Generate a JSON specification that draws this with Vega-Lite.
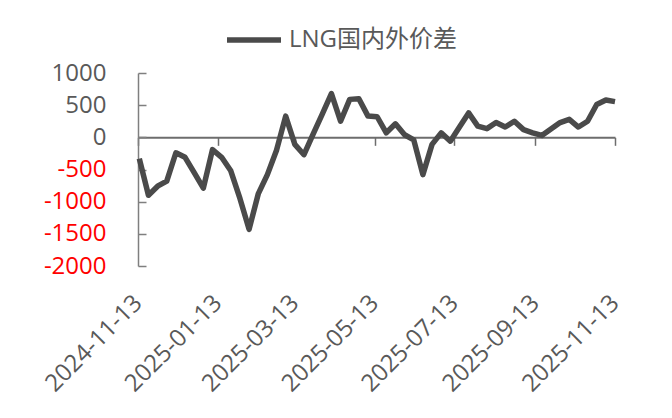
{
  "$schema": "https://vega.github.io/schema/vega-lite/v6.json",
  "width": 477,
  "height": 193,
  "autosize": {"type": "none"},
  "padding": {"left": 138, "top": 73, "right": 57, "bottom": 152},
  "background": "white",
  "config": {"view": {"stroke": null}, "font": "Open Sans, Noto Sans CJK SC"},
  "data": {"values": [
    {"date": "2024-11-14", "value": -330},
    {"date": "2024-11-21", "value": -900},
    {"date": "2024-11-28", "value": -760},
    {"date": "2024-12-05", "value": -680},
    {"date": "2024-12-12", "value": -240},
    {"date": "2024-12-19", "value": -310},
    {"date": "2024-12-26", "value": -550},
    {"date": "2025-01-02", "value": -790},
    {"date": "2025-01-09", "value": -190},
    {"date": "2025-01-16", "value": -310},
    {"date": "2025-01-23", "value": -520},
    {"date": "2025-01-30", "value": -950},
    {"date": "2025-02-06", "value": -1430},
    {"date": "2025-02-13", "value": -880},
    {"date": "2025-02-20", "value": -580},
    {"date": "2025-02-27", "value": -200},
    {"date": "2025-03-06", "value": 330},
    {"date": "2025-03-13", "value": -110},
    {"date": "2025-03-20", "value": -270},
    {"date": "2025-03-27", "value": 50},
    {"date": "2025-04-03", "value": 360},
    {"date": "2025-04-10", "value": 680},
    {"date": "2025-04-17", "value": 250},
    {"date": "2025-04-24", "value": 590},
    {"date": "2025-05-01", "value": 600},
    {"date": "2025-05-08", "value": 330},
    {"date": "2025-05-15", "value": 320},
    {"date": "2025-05-22", "value": 70},
    {"date": "2025-05-29", "value": 210},
    {"date": "2025-06-05", "value": 40},
    {"date": "2025-06-12", "value": -40},
    {"date": "2025-06-19", "value": -580},
    {"date": "2025-06-26", "value": -110},
    {"date": "2025-07-03", "value": 70},
    {"date": "2025-07-10", "value": -60},
    {"date": "2025-07-17", "value": 160},
    {"date": "2025-07-24", "value": 380},
    {"date": "2025-07-31", "value": 175},
    {"date": "2025-08-07", "value": 135},
    {"date": "2025-08-14", "value": 230},
    {"date": "2025-08-21", "value": 160},
    {"date": "2025-08-28", "value": 250},
    {"date": "2025-09-04", "value": 120},
    {"date": "2025-09-11", "value": 70},
    {"date": "2025-09-18", "value": 30},
    {"date": "2025-09-25", "value": 130},
    {"date": "2025-10-02", "value": 230},
    {"date": "2025-10-09", "value": 280},
    {"date": "2025-10-16", "value": 160},
    {"date": "2025-10-23", "value": 250},
    {"date": "2025-10-30", "value": 510},
    {"date": "2025-11-06", "value": 580},
    {"date": "2025-11-13", "value": 555}
  ]},
  "layer": [
    {
      "mark": {"type": "line", "strokeWidth": 5.5, "strokeJoin": "round", "strokeCap": "butt"},
      "encoding": {
        "x": {
          "field": "date", "type": "temporal",
          "scale": {"type": "utc", "domain": [{"year": 2024, "month": 11, "date": 13, "utc": true}, {"year": 2025, "month": 11, "date": 13, "utc": true}]},
          "axis": {
            "orient": "bottom", "title": null, "grid": false, "domain": false, "ticks": false,
            "values": [
              {"year": 2024, "month": 11, "date": 13, "utc": true},
              {"year": 2025, "month": 1, "date": 13, "utc": true},
              {"year": 2025, "month": 3, "date": 13, "utc": true},
              {"year": 2025, "month": 5, "date": 13, "utc": true},
              {"year": 2025, "month": 7, "date": 13, "utc": true},
              {"year": 2025, "month": 9, "date": 13, "utc": true},
              {"year": 2025, "month": 11, "date": 13, "utc": true}
            ],
            "labelExpr": "utcFormat(datum.value, '%Y-%m-%d')",
            "labelAngle": -45, "labelAlign": "right", "labelBaseline": "middle",
            "labelFontSize": 24, "labelColor": "#595959", "labelPadding": 33,
            "labelOverlap": false, "labelBound": false, "labelFlush": false, "labelLimit": 0
          }
        },
        "y": {
          "field": "value", "type": "quantitative",
          "scale": {"domain": [-2000, 1000], "nice": false, "zero": false},
          "axis": {
            "title": null, "grid": false,
            "values": [-2000, -1500, -1000, -500, 0, 500, 1000],
            "labelExpr": "'' + datum.value",
            "labelOverlap": false, "labelBound": false, "labelFlush": false,
            "domain": true, "domainColor": "#7f7f7f", "domainWidth": 1.5,
            "ticks": true, "tickSize": -8, "tickColor": "#7f7f7f", "tickWidth": 1.5,
            "labelFontSize": 24, "labelPadding": 40,
            "labelColor": {"condition": {"test": "datum.value < 0", "value": "#FF0000"}, "value": "#595959"}
          }
        },
        "color": {
          "datum": "LNG国内外价差", "type": "nominal",
          "scale": {"range": ["#4a4a4a"]},
          "legend": {
            "orient": "none", "legendX": 86, "legendY": -63, "direction": "horizontal",
            "title": null, "symbolType": "stroke", "symbolSize": 2916, "symbolStrokeWidth": 5.5,
            "labelFontSize": 24, "labelColor": "#595959", "labelOffset": 5, "labelLimit": 0
          }
        }
      }
    },
    {
      "mark": {"type": "line", "opacity": 0},
      "encoding": {
        "x": {
          "field": "date", "type": "temporal",
          "axis": {
            "orient": "bottom", "offset": -128.67, "title": null, "grid": false, "labels": false,
            "domain": true, "domainColor": "#6d6d6d", "domainWidth": 2,
            "ticks": true, "tickSize": 8, "tickColor": "#6d6d6d", "tickWidth": 1.5,
            "values": [
              {"year": 2024, "month": 11, "date": 13, "utc": true},
              {"year": 2025, "month": 1, "date": 13, "utc": true},
              {"year": 2025, "month": 3, "date": 13, "utc": true},
              {"year": 2025, "month": 5, "date": 13, "utc": true},
              {"year": 2025, "month": 7, "date": 13, "utc": true},
              {"year": 2025, "month": 9, "date": 13, "utc": true},
              {"year": 2025, "month": 11, "date": 13, "utc": true}
            ]
          }
        },
        "y": {
          "field": "value", "type": "quantitative",
          "axis": {
            "title": null, "grid": false,
            "values": [-2000, -1500, -1000, -500, 0, 500, 1000],
            "labelExpr": "'' + datum.value",
            "labelOverlap": false, "labelBound": false, "labelFlush": false,
            "domain": true, "domainColor": "#7f7f7f", "domainWidth": 1.5,
            "ticks": true, "tickSize": -8, "tickColor": "#7f7f7f", "tickWidth": 1.5,
            "labelFontSize": 24, "labelPadding": 40,
            "labelColor": {"condition": {"test": "datum.value < 0", "value": "#FF0000"}, "value": "#595959"}
          }
        }
      }
    }
  ],
  "resolve": {"axis": {"x": "independent"}}
}
